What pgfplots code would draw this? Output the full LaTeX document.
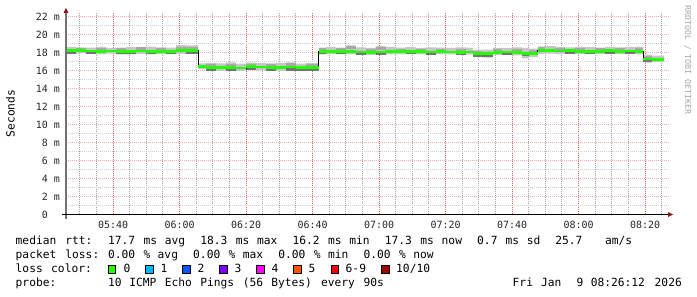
\documentclass[border=0pt]{standalone}
\usepackage{fontspec}
\setmainfont{DejaVu Sans Mono}
\usepackage{pgfplots}
\usepackage{pgfplotstable}
\pgfplotsset{compat=1.18}
\usepgfplotslibrary{fillbetween}

\definecolor{mgrid}{HTML}{D86A6A}
\definecolor{sgrid}{HTML}{A6A6A6}
\definecolor{mgridh}{HTML}{F0AAAA}
\definecolor{sgridh}{HTML}{CFCFCF}
\definecolor{smoke}{HTML}{C6C6C6}
\definecolor{smokemd}{HTML}{A8A8A8}
\definecolor{smokedk}{HTML}{747474}
\definecolor{med}{HTML}{22FF00}
\definecolor{arr}{HTML}{8E1818}
\definecolor{c0}{HTML}{26FF00}
\definecolor{c1}{HTML}{00B8FF}
\definecolor{c2}{HTML}{0059FF}
\definecolor{c3}{HTML}{7E00FF}
\definecolor{c4}{HTML}{FF00FF}
\definecolor{c5}{HTML}{FF5500}
\definecolor{c6}{HTML}{FF0000}
\definecolor{c7}{HTML}{A10000}

\pgfplotstableread{
t      med   hi    lo    dk    md
25.86  18.20 18.60 17.85 18.00 18.20
29     18.22 18.58 17.90 18.22 18.40
32     18.17 18.55 17.85 17.98 18.17
35     18.15 18.62 17.80 18.15 18.38
38     18.17 18.52 17.88 18.17 18.17
41     18.15 18.55 17.80 17.95 18.35
44     18.12 18.60 17.78 17.92 18.12
47     18.17 18.62 17.85 18.17 18.42
50     18.15 18.65 17.80 17.97 18.15
53     18.15 18.58 17.85 18.15 18.38
56     18.12 18.55 17.82 17.95 18.12
59     18.18 18.85 17.85 18.18 18.50
62     18.20 18.80 17.88 17.98 18.45
65.65  16.45 16.80 16.15 16.45 16.45
68     16.35 16.85 16.00 16.10 16.58
71     16.30 16.80 15.95 16.30 16.30
74     16.30 16.90 15.92 16.08 16.60
77     16.27 16.75 15.95 16.27 16.27
80     16.42 16.88 16.05 16.15 16.62
83     16.38 16.82 16.00 16.38 16.38
86     16.33 16.78 15.95 16.10 16.55
89     16.32 16.85 15.98 16.32 16.32
92     16.38 16.90 16.00 16.12 16.65
95     16.30 16.75 15.92 16.05 16.30
98     16.30 16.82 15.95 16.10 16.55
101.87 18.12 18.55 17.80 17.92 18.35
104    18.15 18.62 17.85 18.15 18.15
107    18.12 18.55 17.82 17.95 18.35
110    18.10 18.78 17.80 18.10 18.55
113    18.05 18.58 17.75 17.88 18.05
116    18.02 18.50 17.72 18.02 18.25
119    18.06 18.72 17.78 17.88 18.45
122    18.10 18.62 17.80 18.10 18.10
125    18.08 18.55 17.78 18.08 18.30
128    18.10 18.60 17.82 17.92 18.10
131    18.08 18.52 17.78 18.08 18.28
134    18.05 18.58 17.75 17.88 18.05
137    18.07 18.55 17.78 18.07 18.30
140    18.06 18.52 17.80 18.06 18.06
143    18.03 18.58 17.72 17.88 18.30
146    18.05 18.55 17.75 18.05 18.05
148.27 17.88 18.28 17.52 17.65 18.05
151    17.88 18.32 17.42 17.62 17.88
154.3  18.02 18.48 17.72 18.02 18.25
157    18.05 18.52 17.70 17.88 18.05
160    18.00 18.58 17.68 18.00 18.30
163    17.92 18.52 17.35 17.72 17.92
165    17.90 18.42 17.50 17.90 18.12
167.8  18.18 18.68 17.85 18.18 18.45
170    18.20 18.72 17.88 18.20 18.20
173    18.17 18.62 17.85 18.17 18.40
176    18.20 18.58 17.88 17.98 18.20
179    18.15 18.62 17.85 18.15 18.38
182    18.12 18.60 17.82 17.95 18.12
185    18.15 18.55 17.85 18.15 18.35
188    18.18 18.62 17.88 17.98 18.18
191    18.14 18.58 17.82 18.14 18.36
194    18.16 18.60 17.85 17.95 18.16
197    18.15 18.65 17.80 18.15 18.40
199.4  17.27 17.75 16.88 17.05 17.50
202    17.25 17.65 16.92 17.25 17.25
205.7  17.25 17.65 16.92 17.25 17.25
}\smokedata

\newcommand\lfont{\fontsize{11.3}{13}\selectfont}
\newcommand\tk[3]{\node[anchor=base west,inner sep=0pt,font=\lfont] at ({15.5bp+7.1bp*#1},#2bp) {#3};}

\begin{document}
\begin{tikzpicture}
\path (0bp,0bp) rectangle (697bp,297bp);
\begin{axis}[
  at={(66bp,82.5bp)}, anchor=south west,
  scale only axis, width=603bp, height=201.6bp,
  xmin=25.86, xmax=207.2, ymin=0, ymax=22.4,
  axis line style={draw=none},
  xtick={40,60,...,200},
  xticklabels={05:40,06:00,06:20,06:40,07:00,07:20,07:40,08:00,08:20},
  minor xtick={30,35,...,205},
  ytick={0,2,...,22},
  yticklabels={0\hphantom{0m},2 m,4 m,6 m,8 m,10 m,12 m,14 m,16 m,18 m,20 m,22 m},
  minor ytick={1,3,...,21},
  major tick length=0pt, minor tick length=0pt,
  grid=both,
  major grid style={line width=1bp, dash pattern=on 1bp off 1bp},
  minor grid style={line width=1bp, dash pattern=on 1bp off 1bp},
  major x grid style={mgrid},
  minor x grid style={sgrid},
  major y grid style={mgridh},
  minor y grid style={sgridh},
  tick label style={font=\fontsize{10}{12}\selectfont, inner sep=0pt, text=black!85},
  xticklabel style={anchor=north, yshift=-6bp},
  yticklabel style={anchor=east, xshift=-6bp},
]
\addplot[draw=none, name path=hi, const plot, forget plot] table[x=t, y=hi] {\smokedata};
\addplot[draw=none, name path=lo, const plot, forget plot] table[x=t, y=lo] {\smokedata};
\addplot[fill=smoke, draw=none, forget plot] fill between[of=hi and lo];
\addplot[smokemd, line width=2.5bp, jump mark left, forget plot] table[x=t, y=md] {\smokedata};
\addplot[smokedk, line width=2.4bp, jump mark left, forget plot] table[x=t, y=dk] {\smokedata};
\addplot[black, line width=1bp, const plot, forget plot] table[x=t, y=med] {\smokedata};
\addplot[med, line width=2.8bp, jump mark left, forget plot] table[x=t, y=med] {\smokedata};
\end{axis}
% axis lines and arrows
\draw[black!55, line width=1.2bp] (66bp,78bp) -- (66bp,284bp);
\draw[black, line width=1.2bp] (62bp,82.5bp) -- (669bp,82.5bp);
\fill[arr] (63.5bp,284bp) -- (66bp,289bp) -- (68.5bp,284bp) -- cycle;
\fill[arr] (668bp,80bp) -- (673bp,82.5bp) -- (668bp,85bp) -- cycle;
% axis title and watermark
\node[rotate=90, anchor=base, inner sep=0pt, font=\lfont] at (14.5bp,183.5bp) {Seconds};
\node[rotate=-90, anchor=base west, inner sep=0pt, font=\fontsize{8.3}{10}\selectfont, text=black!35] at (685bp,292bp) {RRDTOOL / TOBI OETIKER};
% legend line 1
\tk{0}{52}{median}\tk{7}{52}{rtt:}\tk{13}{52}{17.7}\tk{18}{52}{ms}\tk{21}{52}{avg}
\tk{26}{52}{18.3}\tk{31}{52}{ms}\tk{34}{52}{max}\tk{39}{52}{16.2}\tk{44}{52}{ms}\tk{47}{52}{min}
\tk{52}{52}{17.3}\tk{57}{52}{ms}\tk{60}{52}{now}\tk{65}{52}{0.7}\tk{69}{52}{ms}\tk{72}{52}{sd}
\tk{76}{52}{25.7}\tk{83}{52}{am/s}
% legend line 2
\tk{0}{38.3}{packet}\tk{7}{38.3}{loss:}\tk{13}{38.3}{0.00}\tk{18}{38.3}{\%}\tk{20}{38.3}{avg}
\tk{25}{38.3}{0.00}\tk{30}{38.3}{\%}\tk{32}{38.3}{max}\tk{37}{38.3}{0.00}\tk{42}{38.3}{\%}\tk{44}{38.3}{min}
\tk{49}{38.3}{0.00}\tk{54}{38.3}{\%}\tk{56}{38.3}{now}
% legend line 3
\tk{0}{24.3}{loss}\tk{5}{24.3}{color:}
\foreach \bx/\lx/\col/\lab in {108.4/123.4/c0/0,145.7/160.5/c1/1,182.7/197.5/c2/2,219.7/234.5/c3/3,256.7/271.5/c4/4,293.7/308.5/c5/5,331/345.5/c6/6-9,381.7/396/c7/{10/10}}{
  \filldraw[draw=black, line width=0.8bp, fill=\col] (\bx bp,24bp) rectangle ++(7.4bp,8bp);
  \node[anchor=base west, inner sep=0pt, font=\lfont] at (\lx bp,24.3bp) {\lab};
}
% legend line 4
\tk{0}{10.5}{probe:}\tk{13}{10.5}{10}\tk{16}{10.5}{ICMP}\tk{21}{10.5}{Echo}\tk{26}{10.5}{Pings}
\tk{32}{10.5}{(56}\tk{36}{10.5}{Bytes)}\tk{43}{10.5}{every}\tk{49}{10.5}{90s}
\tk{70}{10.5}{Fri}\tk{74}{10.5}{Jan}\tk{79}{10.5}{9}\tk{81}{10.5}{08:26:12}\tk{90}{10.5}{2026}
\end{tikzpicture}
\end{document}
